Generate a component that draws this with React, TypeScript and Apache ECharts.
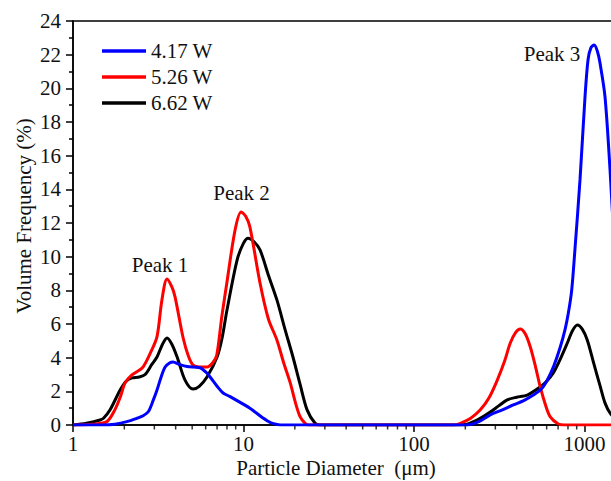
import React, { useEffect, useRef } from "react";
import * as echarts from "echarts";

// ---- Data ----
const seriesNames = ["4.17 W", "5.26 W", "6.62 W"];
const seriesColors = ["#0000ff", "#ff0000", "#000000"];

const blueX = [1, 1.5, 1.76, 2.07, 2.37, 2.58, 2.77, 2.96, 3.11, 3.3, 3.47, 3.7, 3.86, 4.2, 4.67, 5.56, 6.0, 6.37, 7.0, 7.59, 8.3, 9.17, 10.9, 13.0, 14.5, 16, 17, 50, 100, 205, 240, 280, 330, 382, 440, 501, 560, 605, 660, 721, 770, 804, 841, 880, 941, 1007, 1049, 1090, 1141, 1190, 1233, 1319, 1412, 1500, 1650, 1850, 2100, 2500, 10000];
const blueY = [0, 0, 0.05, 0.2, 0.4, 0.55, 0.8, 1.49, 2.08, 2.9, 3.45, 3.7, 3.74, 3.6, 3.47, 3.4, 3.15, 2.85, 2.3, 1.9, 1.7, 1.45, 1.0, 0.42, 0.12, 0.02, 0, 0, 0, 0, 0.2, 0.6, 0.9, 1.19, 1.45, 1.78, 2.15, 2.67, 3.5, 4.63, 5.7, 6.65, 8.0, 10.5, 14.56, 19.5, 21.7, 22.4, 22.58, 22.2, 21.5, 19.5, 15.15, 10.5, 5, 1.5, 0.3, 0, 0];

const redX = [1, 1.3, 1.58, 1.76, 1.9, 2.02, 2.2, 2.4, 2.58, 2.85, 3.11, 3.32, 3.56, 3.8, 3.97, 4.42, 4.75, 5.06, 5.5, 6.11, 6.6, 6.97, 7.46, 7.98, 8.93, 9.68, 10.3, 10.9, 12.5, 14, 15.7, 17.2, 18.8, 20.2, 21.5, 23, 24, 100, 170, 187, 215, 245, 275, 308, 340, 367, 395, 420, 450, 481, 515, 550, 590, 630, 702, 760, 10000];
const redY = [0, 0.05, 0.2, 0.9, 1.7, 2.5, 2.95, 3.2, 3.45, 4.3, 5.25, 7.4, 8.68, 8.2, 7.6, 5.2, 4.1, 3.56, 3.45, 3.45, 3.7, 4.16, 6.44, 8.42, 11.6, 12.66, 12.4, 11.77, 8.44, 6.3, 5.05, 3.7, 2.5, 1.3, 0.48, 0.1, 0, 0, 0, 0.1, 0.4, 0.9, 1.6, 2.67, 3.8, 4.87, 5.5, 5.7, 5.4, 4.63, 3.5, 2.26, 1.2, 0.48, 0.06, 0, 0];

const blackX = [1, 1.2, 1.44, 1.51, 1.65, 1.89, 2.05, 2.22, 2.45, 2.65, 2.9, 3.11, 3.35, 3.56, 3.8, 4.08, 4.54, 5.06, 5.5, 6.11, 7.0, 7.5, 8.0, 9.17, 10.0, 10.64, 11.5, 12.5, 14, 15.7, 17.5, 19.5, 21.5, 23.6, 26.3, 28, 100, 180, 205, 240, 280, 315, 352, 400, 462, 550, 600, 656, 720, 793, 850, 907, 970, 1038, 1130, 1239, 1320, 1417, 1600, 1900, 10000];
const blackY = [0, 0.1, 0.3, 0.4, 0.9, 2.08, 2.6, 2.8, 2.85, 3.0, 3.6, 4.04, 4.8, 5.17, 4.8, 4.04, 2.67, 2.14, 2.3, 2.85, 4.04, 5.2, 6.83, 9.8, 10.8, 11.1, 10.9, 10.4, 8.9, 7.43, 5.7, 4.04, 2.4, 0.9, 0.1, 0, 0, 0, 0.05, 0.35, 0.77, 1.15, 1.49, 1.65, 1.78, 2.26, 2.6, 3.09, 3.9, 4.87, 5.6, 5.94, 5.7, 5.05, 3.7, 2.26, 1.3, 0.7, 0.2, 0, 0];

const yTicks = { min: 0, max: 24, interval: 2 };
const xRange = { min: 1, max: 10000 };
const xLabelMax = 1000;
const xMinorTicks = [2, 3, 4, 5, 6, 7, 8, 9, 20, 30, 40, 50, 60, 70, 80, 90, 200, 300, 400, 500, 600, 700, 800, 900, 2000, 3000];

const peakLabels = ["Peak 1", "Peak 2", "Peak 3"];
const yAxisTitle = "Volume Frequency (%)";
const xAxisTitle = "Particle Diameter  (\u03bcm)";

const FONT = "Liberation Serif";
const TXT = "#111";

function zip(xs: number[], ys: number[]) {
  return xs.map((x, i) => [x, ys[i]]);
}

export default function App() {
  const ref = useRef<HTMLDivElement>(null);
  useEffect(() => {
    if (!ref.current) return;
    const chart = echarts.init(ref.current, undefined, { renderer: "svg" });
    const lineData = [zip(blueX, blueY), zip(redX, redY), zip(blackX, blackY)];
    const order = [2, 1, 0];
    const lineSeries = order.map((i) => ({
      name: seriesNames[i],
      type: "line",
      data: lineData[i],
      showSymbol: false,
      smooth: 0.3,
      lineStyle: { color: seriesColors[i], width: 3 },
      itemStyle: { color: seriesColors[i] },
      z: 3 + (2 - i),
    }));
    const textEl = (text: string, x: number, y: number, rotation = 0) => ({
      type: "text",
      x,
      y,
      rotation,
      style: {
        text,
        fontFamily: FONT,
        fontSize: 21,
        fill: TXT,
        align: "center",
        verticalAlign: "middle",
        textAlign: "center",
        textVerticalAlign: "middle",
      },
    });
    chart.setOption({
      animation: false,
      backgroundColor: "#ffffff",
      textStyle: { fontFamily: FONT },
      grid: {
        left: 73,
        top: 21,
        width: 682,
        height: 404,
        outerBoundsMode: "none",
        containLabel: false,
        show: true,
        borderColor: "#000",
        borderWidth: 1.5,
        backgroundColor: "transparent",
      },
      legend: {
        data: seriesNames.map((n) => ({ name: n, icon: "rect" })),
        orient: "vertical",
        left: 97,
        top: 35.5,
        itemWidth: 44,
        itemHeight: 3.5,
        itemGap: 5,
        textStyle: { fontFamily: FONT, fontSize: 21, color: TXT, lineHeight: 21 },
      },
      xAxis: {
        type: "log",
        logBase: 10,
        min: xRange.min,
        max: xRange.max,
        axisLine: { lineStyle: { color: "#000", width: 1.5 } },
        axisTick: { length: 7, lineStyle: { color: "#000", width: 1.5 } },
        axisLabel: {
          fontFamily: FONT,
          fontSize: 21,
          lineHeight: 19,
          color: TXT,
          margin: 9,
          formatter: (v: number) => (v > xLabelMax * 1.01 ? "" : String(Math.round(v))),
        },
        splitLine: { show: false },
      },
      yAxis: {
        type: "value",
        min: yTicks.min,
        max: yTicks.max,
        interval: yTicks.interval,
        axisLine: { show: true, lineStyle: { color: "#000", width: 1.5 } },
        axisTick: { show: true, length: 7, lineStyle: { color: "#000", width: 1.5 } },
        minorTick: { show: true, splitNumber: 2, length: 4, lineStyle: { color: "#000", width: 1.5 } },
        axisLabel: { fontFamily: FONT, fontSize: 21, color: TXT, margin: 12 },
        splitLine: { show: false },
      },
      series: [
        ...lineSeries,
        {
          name: "minorTicks",
          type: "scatter",
          data: xMinorTicks.map((v) => [v, 0]),
          symbol: "rect",
          symbolSize: [1.5, 4],
          symbolOffset: [0, 2.5],
          itemStyle: { color: "#000" },
          silent: true,
          clip: false,
          z: 10,
        },
      ],
      graphic: [
        textEl(peakLabels[0], 160, 265),
        textEl(peakLabels[1], 241.5, 193),
        textEl(peakLabels[2], 552, 54),
        textEl(xAxisTitle, 336, 467.5),
        textEl(yAxisTitle, 24, 216, Math.PI / 2),
      ],
    });
    return () => chart.dispose();
  }, []);
  return (
    <div
      ref={ref}
      style={{ position: "absolute", left: 0, top: 0, width: 611, height: 481, background: "#fff" }}
    />
  );
}
